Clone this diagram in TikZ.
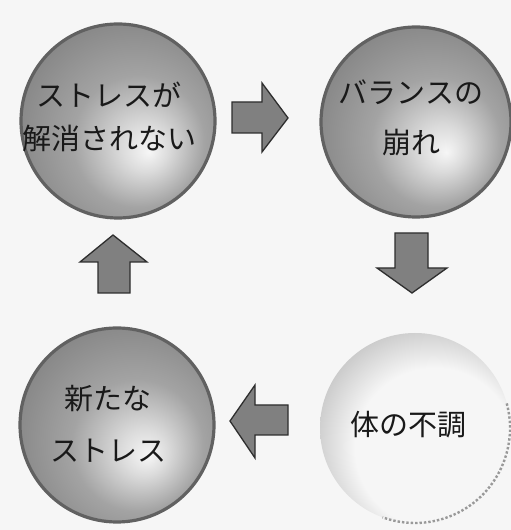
\documentclass[tikz,border=0pt]{standalone}
\usepackage{fontspec}
\newfontfamily\jp{Noto Sans CJK JP}
\definecolor{bgcol}{gray}{0.965}
\pgfdeclareradialshading{darkball}{\pgfpoint{8bp}{-8bp}}{color(0bp)=(bgcol); color(6bp)=(black!14); color(17bp)=(black!36); color(30bp)=(black!47); color(50bp)=(black!50)}
\pgfdeclareradialshading{fadeball}{\pgfpoint{9bp}{-9bp}}{color(0bp)=(bgcol); color(21bp)=(bgcol); color(30bp)=(black!20); color(38bp)=(black!27); color(50bp)=(black!27)}
\tikzset{
  ballnode/.style={circle, minimum size=#1, inner sep=0pt, shade, shading=darkball, draw=black!62, line width=3.2pt},
  fadenode/.style={circle, minimum size=#1, inner sep=0pt, shade, shading=fadeball},
  fadering/.style={draw=black!40, line width=2.4pt, dotted},
  label29/.style={align=center, text=black!90, inner sep=0pt, font={\jp\fontsize{29}{#1}\selectfont}},
  blockarrow/.style={fill=black!50, draw=black!82, line width=1.3pt, line join=miter}
}
\begin{document}
\begin{tikzpicture}[x=1pt,y=1pt]
\useasboundingbox (0,0) rectangle (511,530);
\fill[bgcol] (0,0) rectangle (511,530);
% circles
\node[ballnode=194pt] (c1) at (118,409) {};
\node[ballnode=190pt] (c2) at (416,408) {};
\node[fadenode=190pt] (c3) at (415,102) {};
\node[ballnode=194pt] (c4) at (117,105) {};
\draw[fadering] ([shift={(15:95pt)}]c3.center) arc[start angle=15, end angle=-110, radius=95pt];
% texts
\node[label29=43pt] (t1) at (109,413) {ストレスが\\解消されない};
\node[label29=50pt] (t2) at (411,412) {バランスの\\崩れ};
\node[label29=46pt] (t3) at (408,105) {体の不調};
\node[label29=52pt] (t4) at (108,106) {新たな\\ストレス};
% block arrows
\draw[blockarrow] (232,428) -- (262,428) -- (262,447) -- (288,412) -- (262,378) -- (262,397) -- (232,397) -- cycle;
\draw[blockarrow] (395,297) -- (428,297) -- (428,262) -- (447,262) -- (412,237) -- (377,262) -- (395,262) -- cycle;
\draw[blockarrow] (288,125) -- (255,125) -- (255,145) -- (230,109) -- (255,72) -- (255,95) -- (288,95) -- cycle;
\draw[blockarrow] (98,237) -- (98,268) -- (80,268) -- (113,295) -- (147,268) -- (130,268) -- (130,237) -- cycle;
\end{tikzpicture}
\end{document}
